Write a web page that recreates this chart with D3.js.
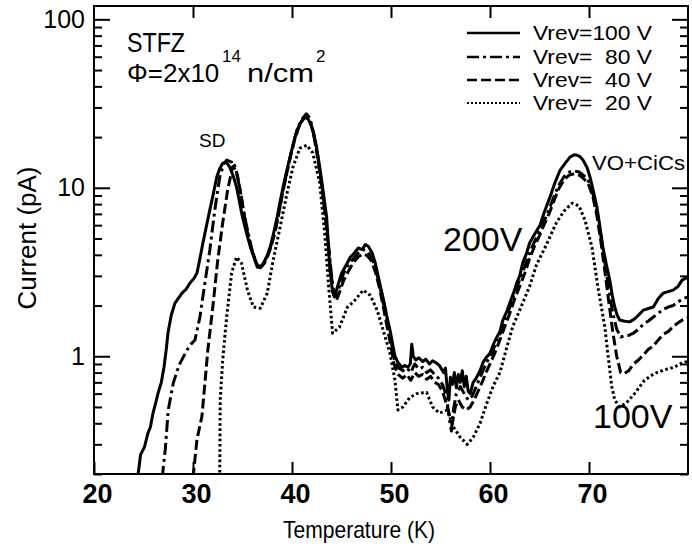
<!DOCTYPE html>
<html><head><meta charset="utf-8">
<script src="https://cdn.jsdelivr.net/npm/d3@7/dist/d3.min.js"></script>
<style>
html,body{margin:0;padding:0;background:#fff;}
svg{display:block;font-family:"Liberation Sans",Arial,Helvetica,sans-serif;}
text{white-space:pre;}
</style></head>
<body><svg id="c" width="692" height="548"></svg>
<script>
// ---- data ----
const xTicks = [20, 30, 40, 50, 60, 70];
const yMajor = [1, 10, 100];
const yMinor = [0.2,0.3,0.4,0.5,0.6,0.7,0.8,0.9,2,3,4,5,6,7,8,9,20,30,40,50,60,70,80,90];
const seriesNames = ["Vrev=100 V", "Vrev=  80 V", "Vrev=  40 V", "Vrev=  20 V"];

const T100 = [24.4,24.55,24.7,25.1,25.45,25.7,25.96,26.2,26.46,26.8,27.07,27.3,27.47,27.8,28.18,28.5,28.89,29.3,29.7,30.1,30.4,30.7,31.0,31.35,31.7,32.05,32.4,32.7,33.0,33.35,33.7,34.05,34.4,34.7,35.0,35.4,35.8,36.2,36.5,36.8,37.1,37.45,37.8,38.15,38.5,38.8,39.1,39.45,39.8,40.15,40.5,40.9,41.3,41.65,42.0,42.4,42.8,43.15,43.5,43.8,44.1,44.3,44.6,45.0,45.5,45.9,46.3,46.7,47.1,47.4,47.7,48.1,48.4,48.7,49.0,49.3,49.6,49.9,50.2,50.4,50.7,51.1,51.4,51.7,51.95,52.1,52.25,52.5,52.8,53.2,53.5,53.9,54.2,54.6,54.9,55.3,55.5,55.7,55.85,56.0,56.2,56.4,56.6,56.8,57.0,57.2,57.4,57.6,57.8,58.0,58.3,58.6,59.0,59.3,59.6,60.0,60.4,60.7,61.0,61.3,61.7,62.0,62.4,62.7,63.0,63.3,63.7,64.0,64.5,65.05,65.5,66.06,66.5,67.07,67.6,68.08,68.5,68.8,69.1,69.4,69.8,70.1,70.4,70.8,71.1,71.4,71.8,72.1,72.35,72.6,72.85,73.1,73.5,74.1,74.5,74.8,75.1,75.5,76.0,76.5,77.0,77.5,78.0,78.5,79.0,79.4,80.0];
const I100 = [0.19,0.22,0.26,0.29,0.35,0.38,0.46,0.52,0.60,0.70,0.86,1.1,1.37,1.75,2.07,2.2,2.37,2.5,2.72,2.9,3.12,3.8,4.7,5.9,7.4,9.2,11.6,13.0,14.0,14.2,13.3,11.8,10.1,8.2,6.7,5.4,4.44,3.8,3.38,3.35,3.57,3.9,4.44,5.4,6.7,8.3,10.1,12.5,15.2,18.5,22.0,24.5,26.3,25.5,23,18.5,13.3,9.5,6.7,3.4,2.4,2.25,2.6,3.1,3.5,3.88,4.1,4.39,4.3,4.6,4.5,4.1,3.6,3.0,2.5,2.1,1.7,1.43,1.15,1.0,0.92,0.86,0.88,0.86,0.9,1.18,1.0,0.95,0.98,0.93,0.96,0.9,0.94,0.91,0.88,0.8,0.85,0.62,0.55,0.75,0.68,0.8,0.65,0.78,0.7,0.82,0.66,0.76,0.62,0.6,0.7,0.74,0.82,0.92,0.98,1.04,1.2,1.3,1.4,1.64,1.85,2.07,2.4,2.72,3.0,3.57,4.1,4.7,5.3,6.0,7.2,8.8,10.5,12.7,14.0,15.2,15.7,15.6,15.3,14.6,13.2,11.6,9.8,7.69,5.9,4.44,3.4,2.83,2.3,1.96,1.75,1.64,1.62,1.6,1.65,1.71,1.78,1.88,1.92,1.96,2.2,2.37,2.42,2.47,2.6,2.83,2.95];

const T80 = [26.9,27.0,27.2,27.5,28.0,28.4,28.7,29.4,29.8,30.2,30.7,31.2,31.7,32.2,32.7,33.1,33.4,33.9,34.4,34.8,35.1,35.5,35.9,36.3,36.6,36.9,37.2,37.6,37.9,38.3,38.7,39.1,39.5,39.9,40.3,40.7,41.1,41.45,41.8,42.2,42.6,43.0,43.3,43.6,43.9,44.2,44.5,44.8,45.2,45.7,46.2,46.7,47.2,47.6,48.0,48.4,48.8,49.2,49.6,50.0,50.3,50.7,51.2,51.6,52.0,52.4,52.8,53.2,53.6,54.0,54.4,54.8,55.2,55.6,55.9,56.1,56.3,56.6,57.0,57.4,57.8,58.2,58.6,59.0,59.4,59.8,60.2,60.6,61.0,61.5,62.0,62.5,63.0,63.5,64.0,64.5,65.0,65.5,66.0,66.5,67.0,67.5,68.0,68.5,69.0,69.5,70.0,70.4,70.8,71.2,71.6,72.0,72.4,72.8,73.2,73.6,74.0,74.5,75.0,75.5,76.0,76.5,77.0,77.5,78.0,78.5,79.0,79.5,80.0];
const I80 = [0.19,0.22,0.28,0.48,0.69,0.82,0.91,1.09,1.18,1.25,1.71,2.72,4.27,7.38,11.6,13.8,14.6,14.2,12.2,9.5,7.3,5.6,4.4,3.7,3.4,3.4,3.6,4.1,4.6,5.6,7.3,9.8,12.6,16,20,23.5,26,27.5,26,21,15.5,10.5,7.5,5.2,3.4,2.4,2.3,2.6,3.1,3.5,3.8,4.1,4.3,4.2,3.9,3.4,2.7,2.1,1.6,1.25,0.98,0.86,0.82,0.85,0.8,0.9,0.84,0.86,0.8,0.83,0.78,0.74,0.68,0.58,0.42,0.36,0.48,0.6,0.66,0.6,0.55,0.58,0.66,0.75,0.85,0.95,1.05,1.2,1.35,1.65,1.95,2.4,2.85,3.4,4.1,4.8,5.5,6.4,7.5,9.0,10.5,11.7,12.4,12.6,12.4,11.8,10.8,9.2,7.2,5.2,3.6,2.5,1.8,1.45,1.3,1.32,1.33,1.37,1.45,1.55,1.62,1.71,1.8,1.9,1.96,2.0,2.1,2.2,2.25];

const T40 = [30.0,30.4,30.9,31.2,31.5,32.0,32.5,33.0,33.5,34.0,34.2,34.5,34.8,35.1,35.5,35.9,36.3,36.6,36.9,37.2,37.6,37.9,38.3,38.7,39.1,39.5,39.9,40.3,40.7,41.1,41.45,41.8,42.2,42.6,43.0,43.3,43.6,43.9,44.2,44.5,44.8,45.2,45.7,46.2,46.7,47.2,47.6,48.0,48.4,48.8,49.2,49.6,50.0,50.3,50.7,51.2,51.6,52.0,52.4,52.8,53.2,53.6,54.0,54.4,54.8,55.2,55.6,55.9,56.2,56.5,56.8,57.2,57.6,58.0,58.4,58.8,59.2,59.6,60.0,60.5,61.0,61.5,62.0,62.5,63.0,63.5,64.0,64.5,65.0,65.5,66.0,66.5,67.0,67.5,68.0,68.5,69.0,69.5,70.0,70.4,70.8,71.2,71.6,72.0,72.4,72.8,73.2,73.6,74.0,74.5,75.0,75.5,76.0,76.5,77.0,77.5,78.0,78.5,79.0,79.5,80.0];
const I40 = [0.19,0.32,0.44,0.69,1.09,1.96,3.72,6.2,9.7,13.3,13.6,11.8,9.4,7.3,5.5,4.4,3.7,3.45,3.4,3.55,4.0,4.5,5.5,7.2,9.6,12.4,15.8,19.5,23,25.5,26.5,25.5,20.5,15,10.2,7.3,5.0,3.3,2.3,2.15,2.4,2.8,3.2,3.6,3.9,4.05,3.95,3.7,3.2,2.6,2.0,1.5,1.15,0.9,0.78,0.74,0.78,0.72,0.8,0.76,0.78,0.73,0.76,0.7,0.68,0.62,0.52,0.45,0.4,0.5,0.55,0.5,0.48,0.5,0.55,0.62,0.7,0.8,0.9,1.05,1.25,1.5,1.8,2.2,2.6,3.1,3.8,4.5,5.2,6.1,7.1,8.5,10.0,11.2,11.9,12.1,11.9,11.3,10.3,8.8,6.8,4.8,3.2,2.1,1.4,1.0,0.8,0.79,0.82,0.9,0.95,1.02,1.1,1.15,1.25,1.35,1.4,1.5,1.58,1.65,1.69];

const T20 = [32.7,32.75,33.0,33.4,33.9,34.4,34.9,35.5,36.1,36.8,37.5,38.1,38.8,39.5,40.1,40.8,41.5,42.1,42.8,43.3,43.7,44.1,44.8,45.6,46.2,47.2,47.9,48.6,49.2,49.9,50.4,50.7,51.2,51.9,52.6,53.6,54.2,54.9,55.7,56.3,57.0,57.7,58.3,59.0,59.7,60.3,61.0,61.7,62.3,63.3,64.0,64.7,65.7,66.7,67.5,68.3,69.0,69.6,70.3,70.9,71.6,71.9,72.3,72.6,73.1,73.8,74.6,75.6,76.6,77.6,78.6,79.5,80.0];
const I20 = [0.19,0.55,0.95,1.71,3.12,3.88,3.57,2.47,1.96,1.93,2.37,3.72,5.85,9.3,13.3,17.2,17.9,16.1,10.7,5.4,2.6,1.37,1.49,1.96,2.1,2.47,2.3,1.88,1.43,1.04,0.72,0.48,0.5,0.57,0.6,0.61,0.5,0.46,0.48,0.38,0.33,0.3,0.33,0.4,0.53,0.66,0.8,1.13,1.5,2.07,2.6,3.5,4.6,6.2,7.3,8.1,7.8,6.4,4.44,2.57,1.49,1.04,0.66,0.55,0.5,0.53,0.6,0.72,0.79,0.83,0.86,0.92,0.93];

// ---- layout ----
const svg = d3.select("#c");
const L = 94, R = 688, TOP = 6, BOT = 474;
const x = d3.scaleLinear().domain([20, 80]).range([L, R]);
const y = d3.scaleLog().domain([0.2, 120]).range([BOT, TOP]);
const FONT = '"Liberation Sans",Arial,Helvetica,sans-serif';

svg.append("clipPath").attr("id","clip").append("rect")
  .attr("x", L).attr("y", TOP).attr("width", R - L).attr("height", BOT - TOP);

const styles = [
  {dash: null, w: 3},
  {dash: "12,4,3,4", w: 3},
  {dash: "10,4", w: 3},
  {dash: "2.6,2.6", w: 3}
];
const series = [[T100,I100],[T80,I80],[T40,I40],[T20,I20]];
const line = d3.line().x(d => x(d[0])).y(d => y(Math.max(d[1], 0.05)));

const g = svg.append("g").attr("clip-path","url(#clip)");
series.forEach((s, i) => {
  const pts = s[0].map((t, k) => [t, s[1][k]]);
  g.append("path").datum(pts).attr("d", line)
    .attr("fill","none").attr("stroke","#000")
    .attr("stroke-width", styles[i].w)
    .attr("stroke-linejoin","round")
    .attr("stroke-dasharray", styles[i].dash);
});

// ---- axes ----
function styleAxis(sel){
  sel.select(".domain").remove();
  sel.selectAll("line").attr("stroke","#000").attr("stroke-width",2);
}
svg.append("g").attr("transform",`translate(0,${BOT})`)
  .call(d3.axisBottom(x).tickValues(xTicks).tickFormat(d3.format("d")).tickSize(-12).tickPadding(9).tickSizeOuter(0))
  .call(styleAxis)
  .selectAll("text").attr("font-family",FONT).attr("font-size",28).attr("font-weight","bold").attr("fill","#000")
  .attr("textLength",30).attr("lengthAdjust","spacingAndGlyphs").attr("dx",3);
svg.append("g").attr("transform",`translate(0,${TOP})`)
  .call(d3.axisTop(x).tickValues(xTicks.slice(1)).tickFormat("").tickSize(-12).tickSizeOuter(0))
  .call(styleAxis);
svg.append("g").attr("transform",`translate(${L},0)`)
  .call(d3.axisLeft(y).tickValues(yMajor).tickFormat(d3.format("d")).tickSize(-16).tickPadding(9).tickSizeOuter(0))
  .call(styleAxis)
  .selectAll("text").attr("font-family",FONT).attr("font-size",25).attr("fill","#000");
svg.append("g").attr("transform",`translate(${L},0)`)
  .call(d3.axisLeft(y).tickValues(yMinor).tickFormat("").tickSize(-8).tickSizeOuter(0))
  .call(styleAxis);
svg.append("g").attr("transform",`translate(${R},0)`)
  .call(d3.axisRight(y).tickValues(yMajor).tickFormat("").tickSize(-16).tickSizeOuter(0))
  .call(styleAxis);
svg.append("g").attr("transform",`translate(${R},0)`)
  .call(d3.axisRight(y).tickValues(yMinor).tickFormat("").tickSize(-8).tickSizeOuter(0))
  .call(styleAxis);
svg.append("rect").attr("x",L).attr("y",TOP).attr("width",R-L).attr("height",BOT-TOP)
  .attr("fill","none").attr("stroke","#000").attr("stroke-width",2);

// ---- axis titles ----
svg.append("text").attr("x",359).attr("y",538).attr("text-anchor","middle")
  .attr("font-size",24).attr("textLength",152).attr("lengthAdjust","spacingAndGlyphs")
  .attr("fill","#000").text("Temperature (K)");
svg.append("text").attr("transform","translate(36,238) rotate(-90)").attr("text-anchor","middle")
  .attr("font-size",26).attr("fill","#000").text("Current (pA)");

// ---- annotations ----
svg.append("text").attr("x",127).attr("y",52).attr("font-size",27)
  .attr("textLength",58).attr("lengthAdjust","spacingAndGlyphs").text("STFZ");
const phi = svg.append("text").attr("y",82).attr("font-size",26);
phi.append("tspan").attr("x",127).text("\u03A6=2x10");
phi.append("tspan").attr("x",222).attr("dy",-20).attr("font-size",17).text("14");
phi.append("tspan").attr("x",247).attr("dy",20).attr("textLength",67).attr("lengthAdjust","spacingAndGlyphs").text("n/cm");
phi.append("tspan").attr("x",316).attr("dy",-20).attr("font-size",17).text("2");

svg.append("text").attr("x",199).attr("y",147).attr("font-size",19).text("SD");
svg.append("text").attr("x",592).attr("y",170).attr("font-size",21)
  .attr("textLength",93).attr("lengthAdjust","spacingAndGlyphs").text("VO+CiCs");
svg.append("text").attr("x",443).attr("y",251).attr("font-size",34).text("200V");
svg.append("text").attr("x",593).attr("y",428).attr("font-size",34).text("100V");

// ---- legend ----
const legY = [33, 57, 80, 103];
seriesNames.forEach((name, i) => {
  svg.append("line").attr("x1",467).attr("x2",520).attr("y1",legY[i]).attr("y2",legY[i])
    .attr("stroke","#000").attr("stroke-width", i===3 ? 2 : 2.5)
    .attr("stroke-dasharray", i===3 ? "2,2" : styles[i].dash);
  svg.append("text").attr("x",533).attr("y",legY[i]+7).attr("font-size",20)
    .attr("textLength",119).attr("lengthAdjust","spacingAndGlyphs").text(name);
});
</script></body></html>
